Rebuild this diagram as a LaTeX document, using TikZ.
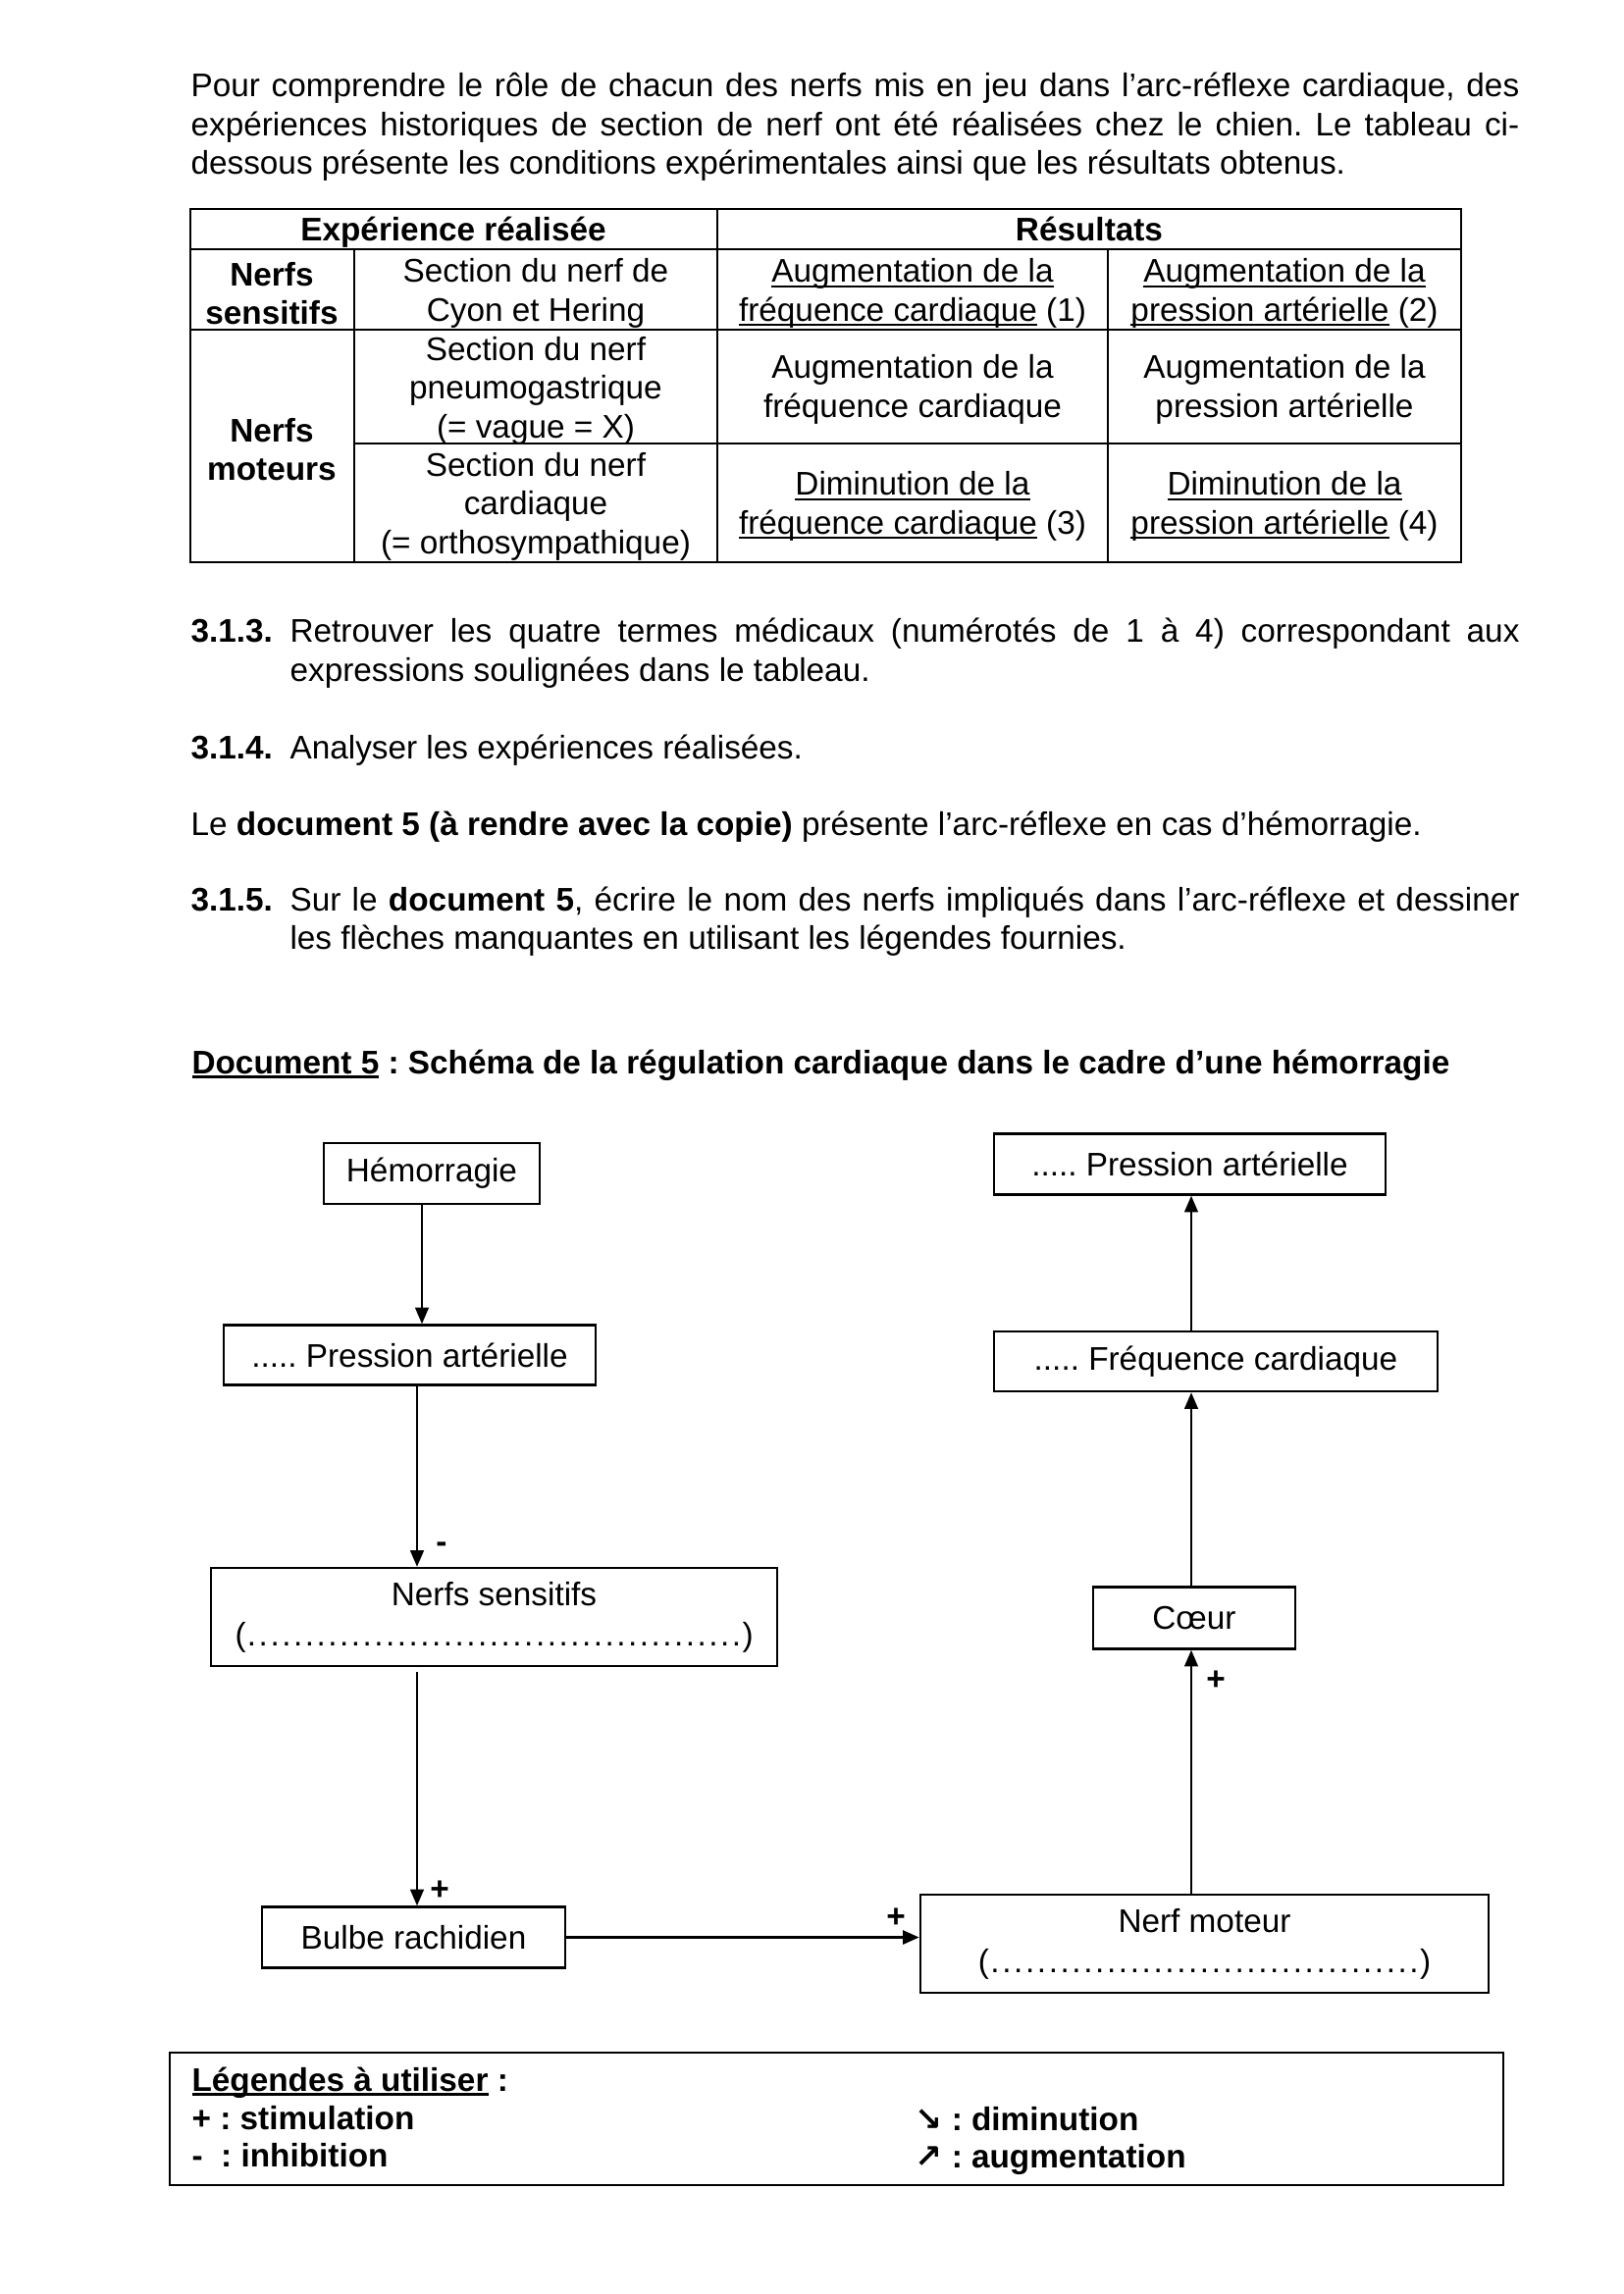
\documentclass[tikz,border=0pt]{standalone}
\usepackage{fontspec}
\setmainfont{Liberation Sans}
\newfontfamily\arrowfont{DejaVu Sans}
\usetikzlibrary{arrows.meta}
\frenchspacing
\newsavebox\ulbox
\newcommand\uln[2][0.8pt]{\sbox\ulbox{#2}\rlap{\rule[-1.8pt]{\wd\ulbox}{#1}}\usebox\ulbox}
\newcommand\dotline[1]{\makebox[#1]{(\xleaders\hbox to 4.2pt{\hss.\hss}\hfill)}}
\newcommand\jline[2]{\makebox[#1][s]{#2}}
\begin{document}
\begin{tikzpicture}[x=0.36pt,y=-0.36pt,
  every node/.style={inner sep=0pt, font=\fontsize{12}{14.2}\selectfont},
  txt/.style={anchor=base west},
  cell/.style={align=center},
  bx/.style={draw, line width=0.9pt, align=center},
  arr/.style={-{Triangle[length=6pt,width=5pt]}, line width=0.6pt},
  arrthick/.style={-{Triangle[length=6pt,width=5pt]}, line width=1.1pt},
  sign/.style={font=\fontsize{12}{14}\selectfont\bfseries},
  tline/.style={line width=0.8pt}
]
\useasboundingbox (0,0) rectangle (1654,2338);

% ---- paragraph ----
\node[txt] (p1) at (194,98) {\jline{487.4pt}{Pour comprendre le rôle de chacun des nerfs mis en jeu dans l’arc-réflexe cardiaque, des}};
\node[txt] (p2) at (194,138) {\jline{487.4pt}{expériences historiques de section de nerf ont été réalisées chez le chien. Le tableau ci-}};
\node[txt] (p3) at (194,177) {dessous présente les conditions expérimentales ainsi que les résultats obtenus.};

% ---- table ----
\draw[line width=0.9pt] (194,213) rectangle (1489,573);
\draw[tline] (194,254) -- (1489,254);
\draw[tline] (194,336) -- (1489,336);
\draw[tline] (361,452) -- (1489,452);
\draw[tline] (361,254) -- (361,573);
\draw[tline] (731,213) -- (731,573);
\draw[tline] (1129,254) -- (1129,573);

\node[anchor=base,font=\fontsize{12}{14.2}\selectfont\bfseries] (h1) at (462,245) {Expérience réalisée};
\node[anchor=base,font=\fontsize{12}{14.2}\selectfont\bfseries] (h2) at (1110,245) {Résultats};
\node[cell,font=\fontsize{12}{14.2}\selectfont\bfseries] (ns1) at (277,299) {Nerfs\\sensitifs};
\node[cell,font=\fontsize{12}{14.2}\selectfont\bfseries] (nm1) at (277,458) {Nerfs\\moteurs};
\node[cell] (c11) at (546,299) {Section du nerf de\\Cyon et Hering};
\node[cell] (c12) at (930,299) {\uln{Augmentation de la}\\\uln{fréquence cardiaque} (1)};
\node[cell] (c13) at (1309,299) {\uln{Augmentation de la}\\\uln{pression artérielle} (2)};
\node[cell] (c21) at (546,398) {Section du nerf\\pneumogastrique\\(= vague = X)};
\node[cell] (c22) at (930,397) {Augmentation de la\\fréquence cardiaque};
\node[cell] (c23) at (1309,397) {Augmentation de la\\pression artérielle};
\node[cell] (c31) at (546,516) {Section du nerf\\cardiaque\\(= orthosympathique)};
\node[cell] (c32) at (930,516) {\uln{Diminution de la}\\\uln{fréquence cardiaque} (3)};
\node[cell] (c33) at (1309,516) {\uln{Diminution de la}\\\uln{pression artérielle} (4)};

% ---- questions ----
\node[txt] (q1n) at (194,654) {\bfseries 3.1.3.};
\node[txt] (q1a) at (295,654) {\jline{451.1pt}{Retrouver les quatre termes médicaux (numérotés de 1 à 4) correspondant aux}};
\node[txt] (q1b) at (295,694) {expressions soulignées dans le tableau.};
\node[txt] (q2n) at (194,773) {\bfseries 3.1.4.};
\node[txt] (q2a) at (295,773) {Analyser les expériences réalisées.};
\node[txt] (le) at (194,851) {Le \textbf{document 5 (à rendre avec la copie)} présente l’arc-réflexe en cas d’hémorragie.};
\node[txt] (q3n) at (194,928) {\bfseries 3.1.5.};
\node[txt] (q3a) at (295,928) {\jline{451.1pt}{Sur le \textbf{document 5}, écrire le nom des nerfs impliqués dans l’arc-réflexe et dessiner}};
\node[txt] (q3b) at (295,967) {les flèches manquantes en utilisant les légendes fournies.};

% ---- document 5 title ----
\node[txt] (title) at (195,1094) {\bfseries\uln[1.1pt]{Document 5} : Schéma de la régulation cardiaque dans le cadre d’une hémorragie};

% ---- boxes ----
\node[bx, minimum width=0.36pt*220, minimum height=0.36pt*62] (hem) at (440,1196) {Hémorragie};
\node[bx, minimum width=0.36pt*379, minimum height=0.36pt*61] (pl) at (417.5,1381) {..... Pression artérielle};
\node[bx, minimum width=0.36pt*577, minimum height=0.36pt*100, font=\fontsize{12}{14.8}\selectfont] (ns) at (503.5,1648) {Nerfs sensitifs\\\dotline{190pt}};
\node[bx, minimum width=0.36pt*309, minimum height=0.36pt*62] (br) at (421.5,1974.5) {Bulbe rachidien};
\node[bx, minimum width=0.36pt*579, minimum height=0.36pt*100, font=\fontsize{12}{14.8}\selectfont] (nm) at (1227.5,1981) {Nerf moteur\\\dotline{166pt}};
\node[bx, minimum width=0.36pt*206, minimum height=0.36pt*63] (co) at (1217,1649) {Cœur};
\node[bx, minimum width=0.36pt*452, minimum height=0.36pt*61] (fc) at (1239,1387.5) {..... Fréquence cardiaque};
\node[bx, minimum width=0.36pt*399, minimum height=0.36pt*62] (pr) at (1212.5,1186.5) {..... Pression artérielle};

% ---- connectors ----
\coordinate (xa) at (430,0);
\coordinate (xb) at (425,0);
\coordinate (xr) at (1214,0);
\coordinate (nsb) at ([yshift=-1.8pt]ns.south);
\draw[arr] (hem.south -| xa) -- (pl.north -| xa);
\draw[arr] (pl.south -| xb) -- (ns.north -| xb);
\draw[arr] (nsb -| xb) -- (br.north -| xb);
\draw[arrthick] (br.east) -- (br.east -| nm.west);
\draw[arr] (nm.north -| xr) -- (co.south -| xr);
\draw[arr] (co.north -| xr) -- (fc.south -| xr);
\draw[arr] (fc.north -| xr) -- (pr.south -| xr);

\node[sign] (s1) at (450,1577) {-};
\node[sign] (s2) at (448,1927) {+};
\node[sign] (s3) at (1239,1713) {+};
\node[sign] (s4) at (913,1955) {+};

% ---- legend ----
\node[draw, line width=1pt, minimum width=0.36pt*1359, minimum height=0.36pt*135] (leg) at (852.5,2159.5) {};
\node[txt,font=\fontsize{12}{14}\selectfont\bfseries] (l0) at (195,2131) {\uln[1.1pt]{Légendes à utiliser} :};
\node[txt,font=\fontsize{12}{14}\selectfont\bfseries] (l1) at (195,2170) {+ : stimulation};
\node[txt,font=\fontsize{12}{14}\selectfont\bfseries] (l2) at (195,2208) {-~~: inhibition};
\node[txt,font=\fontsize{12}{14}\selectfont\bfseries] (l3) at (932,2171) {{\arrowfont ↘} : diminution};
\node[txt,font=\fontsize{12}{14}\selectfont\bfseries] (l4) at (932,2209) {{\arrowfont ↗} : augmentation};
\end{tikzpicture}
\end{document}
